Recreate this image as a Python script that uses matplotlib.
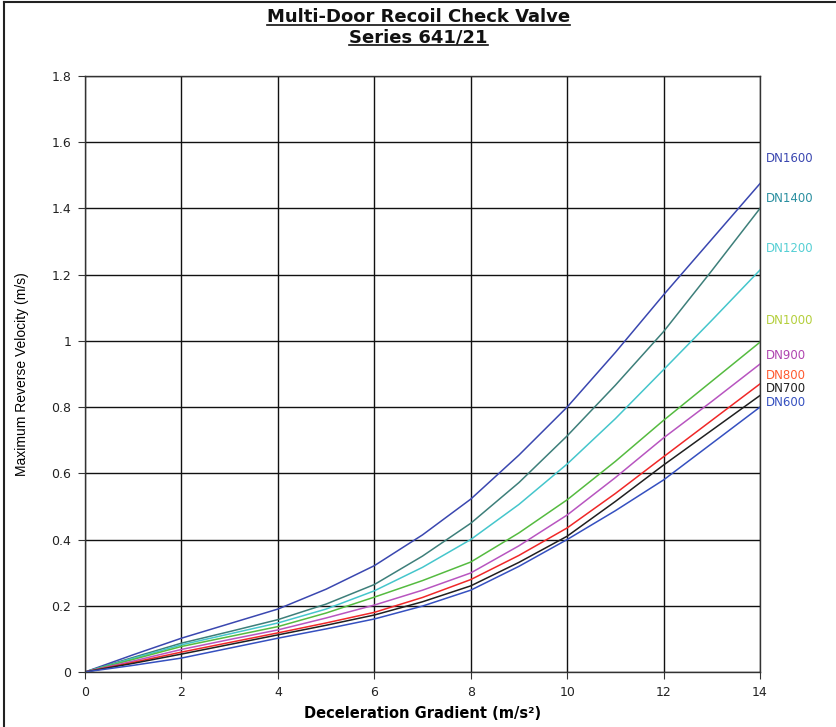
import matplotlib
matplotlib.use("Agg")
import matplotlib.pyplot as plt
from matplotlib.lines import Line2D
from matplotlib.ticker import FuncFormatter

x = [0, 1, 2, 3, 4, 5, 6, 7, 8, 9, 10, 11, 12, 13, 14]
dn1600 = [0, 0.052, 0.102, 0.146, 0.19, 0.25, 0.321, 0.414, 0.522, 0.655, 0.80, 0.965, 1.139, 1.307, 1.475]
dn1400 = [0, 0.044, 0.087, 0.122, 0.158, 0.205, 0.264, 0.35, 0.449, 0.572, 0.713, 0.866, 1.028, 1.212, 1.40]
dn1200 = [0, 0.041, 0.082, 0.115, 0.148, 0.19, 0.245, 0.316, 0.40, 0.506, 0.628, 0.765, 0.913, 1.062, 1.214]
dn1000 = [0, 0.038, 0.077, 0.107, 0.137, 0.178, 0.226, 0.276, 0.332, 0.42, 0.52, 0.636, 0.76, 0.878, 0.996]
dn900 = [0, 0.033, 0.068, 0.098, 0.127, 0.163, 0.202, 0.247, 0.299, 0.381, 0.474, 0.587, 0.707, 0.817, 0.93]
dn800 = [0, 0.029, 0.06, 0.089, 0.118, 0.148, 0.18, 0.225, 0.279, 0.352, 0.435, 0.539, 0.65, 0.76, 0.87]
dn700 = [0, 0.026, 0.054, 0.083, 0.112, 0.141, 0.172, 0.212, 0.26, 0.331, 0.41, 0.515, 0.625, 0.73, 0.835]
dn600 = [0, 0.02, 0.042, 0.072, 0.102, 0.13, 0.16, 0.199, 0.247, 0.319, 0.40, 0.487, 0.58, 0.69, 0.80]

series = [
    ("DN1600", dn1600, "#3a47b0", "#3a47b0", 1.55),
    ("DN1400", dn1400, "#3d7f7a", "#2a8fa0", 1.43),
    ("DN1200", dn1200, "#45c6cc", "#55cfd4", 1.28),
    ("DN1000", dn1000, "#55bb40", "#b4cf3c", 1.06),
    ("DN900", dn900, "#b855c0", "#b045b0", 0.955),
    ("DN800", dn800, "#f02828", "#ff5a30", 0.895),
    ("DN700", dn700, "#202020", "#202020", 0.855),
    ("DN600", dn600, "#3550c0", "#3550c0", 0.815),
]

xticks = [0, 2, 4, 6, 8, 10, 12, 14]
yticks = [0, 0.2, 0.4, 0.6, 0.8, 1.0, 1.2, 1.4, 1.6, 1.8]

plt.rcParams['font.family'] = ['DejaVu Sans']

fig = plt.figure(figsize=(8.37, 7.27), dpi=100)
ax = fig.add_axes([0.1016, 0.0757, 0.8064, 0.8198])

for name, ys, c, lc, ly in series:
    ax.plot(x, ys, color=c, lw=1.1)
    ax.text(14.12, ly, name, color=lc, fontsize=8.5, va='center', ha='left')

ax.set_xlim(0, 14)
ax.set_ylim(0, 1.8)
ax.set_xticks(xticks)
ax.set_yticks(yticks)
ax.yaxis.set_major_formatter(FuncFormatter(lambda v, p: f"{v:g}"))
ax.grid(True, color='#111111', lw=1.0)
ax.set_axisbelow(True)
for s in ax.spines.values():
    s.set_color('#333333')
    s.set_linewidth(1.0)
ax.tick_params(axis='both', direction='out', length=5, color='#333333',
               labelsize=9, labelcolor='#222222', pad=5)

ax.set_ylabel("Maximum Reverse Velocity (m/s)", fontsize=10,
              family=['Liberation Sans'], labelpad=16)
ax.set_xlabel("Deceleration Gradient (m/s²)", fontsize=10.5, fontweight='bold',
              labelpad=5)

t1 = fig.text(0.500, 0.976, "Multi-Door Recoil Check Valve", ha='center', va='center',
              fontsize=13, fontweight='bold', color='#111111')
t2 = fig.text(0.500, 0.949, "Series 641/21", ha='center', va='center',
              fontsize=13, fontweight='bold', color='#111111')

fig.canvas.draw()
r = fig.canvas.get_renderer()
inv = fig.transFigure.inverted()
for t in (t1, t2):
    bb = t.get_window_extent(r)
    (x0, y0), (x1, y1) = inv.transform([(bb.x0, bb.y0), (bb.x1, bb.y1)])
    fig.add_artist(Line2D([x0, x1], [y0 + 0.002, y0 + 0.002], transform=fig.transFigure,
                          color='#111111', lw=1.2))

# outer frame
fig.add_artist(Line2D([0.005, 0.005], [0.0, 0.997], transform=fig.transFigure, color='#222222', lw=1.5))
fig.add_artist(Line2D([0.005, 0.998], [0.997, 0.997], transform=fig.transFigure, color='#222222', lw=1.5))

fig.savefig("out.png", dpi=100)
